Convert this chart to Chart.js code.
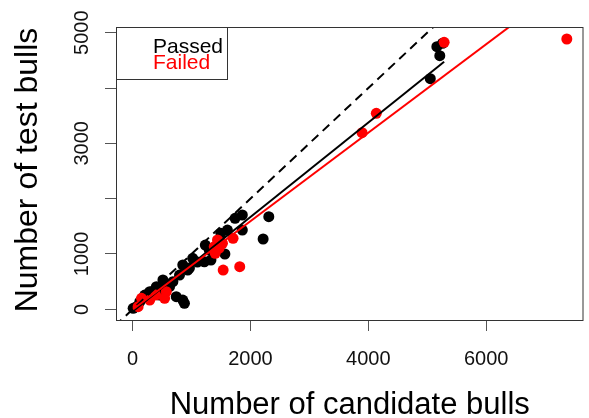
<!DOCTYPE html>
<html>
<head>
<meta charset="utf-8">
<script src="https://cdn.jsdelivr.net/npm/chart.js@4.4.1/dist/chart.umd.min.js"></script>
<style>
  html, body { margin: 0; padding: 0; background: #fff; }
  #wrap { width: 589px; height: 418px; }
</style>
</head>
<body>
<div id="wrap"><canvas id="chart" width="589" height="418"></canvas></div>
<script>
// ===== DATA =====
const passedX = [2311, 2215, 1862, 1739, 1862, 1609, 1498, 1234, 1566, 1330, 1217, 1020, 852, 936, 515, 684, 628, 404, 291, 741, 852, 880, 460, 123, 10, 67, 5162, 5258, 5212, 5051, 207, 375, 544, 796, 1099, 1301, 965];
const passedY = [1674, 1271, 1705, 1645, 1433, 1433, 1374, 1162, 1000, 891, 860, 922, 801, 710, 530, 499, 409, 409, 318, 228, 168, 108, 258, 137, 18, 47, 4747, 4808, 4584, 4168, 258, 349, 439, 620, 855, 1072, 746];

const failedX = [7367, 5286, 4135, 3894, 1441, 1386, 1525, 1705, 1402, 1537, 1818, 544, 572, 152, 94, 291, 392, 1470];
const failedY = [4886, 4826, 3543, 3192, 1253, 1132, 1193, 1283, 1012, 710, 770, 199, 318, 199, 47, 168, 258, 1108];

// fitted lines (end points)
const passedLineX = [0, 5286];
const passedLineY = [-39, 4476];
const failedLineX = [10, 7367];
const failedLineY = [0, 5886];
const identityLine = [-300, 5300];

const xTicks = [0, 2000, 4000, 6000];
const yTicks = [0, 1000, 2000, 3000, 4000, 5000];
const yTickLabels = ['0', '1000', '', '3000', '', '5000'];
const legendLabels = ['Passed', 'Failed'];
const xTitle = 'Number of candidate bulls';
const yTitle = 'Number of test bulls';

const toPoints = (xs, ys) => xs.map((x, i) => ({ x: x, y: ys[i] }));

// ===== R-STYLE FRAME, LABELS AND LEGEND =====
const FONT = '"Liberation Sans", Arial, sans-serif';

const rDecor = {
    id: 'rDecor',
    afterDraw(chart) {
        const ctx = chart.ctx;
        const a = chart.chartArea;
        const xs = chart.scales.x;
        const ys = chart.scales.y;
        ctx.save();

        // plot box
        ctx.strokeStyle = '#333';
        ctx.lineWidth = 1;
        ctx.strokeRect(a.left + 0.5, a.top + 0.5, a.right - a.left - 1, a.bottom - a.top);

        ctx.fillStyle = '#111';

        // x tick labels
        ctx.font = '20px ' + FONT;
        ctx.textAlign = 'center';
        ctx.textBaseline = 'alphabetic';
        xTicks.forEach(v => {
            ctx.fillText(String(v), xs.getPixelForValue(v), 365);
        });

        // y tick labels (rotated like R)
        yTicks.forEach((v, i) => {
            if (!yTickLabels[i]) return;
            ctx.save();
            ctx.translate(88, ys.getPixelForValue(v));
            ctx.rotate(-Math.PI / 2);
            ctx.fillText(yTickLabels[i], 0, 0);
            ctx.restore();
        });

        // axis titles
        ctx.fillStyle = '#000';
        ctx.font = '31px ' + FONT;
        ctx.fillText(xTitle, (a.left + a.right) / 2, 414);
        ctx.save();
        ctx.translate(37, 170);
        ctx.rotate(-Math.PI / 2);
        ctx.font = '32px ' + FONT;
        ctx.fillText(yTitle, 0, 0);
        ctx.restore();

        // legend
        ctx.strokeStyle = '#333';
        ctx.strokeRect(a.left + 0.5, a.top + 0.5, 111, 52);
        ctx.font = '21px ' + FONT;
        ctx.textAlign = 'left';
        ctx.fillStyle = '#000';
        ctx.fillText(legendLabels[0], 153, 53);
        ctx.fillStyle = '#ff0000';
        ctx.fillText(legendLabels[1], 153, 69);

        ctx.restore();
    }
};

// ===== CHART =====
new Chart(document.getElementById('chart'), {
    type: 'scatter',
    data: {
        datasets: [
            {
                label: 'Failed fit',
                data: toPoints(failedLineX, failedLineY),
                showLine: true,
                borderColor: '#ff0000',
                borderWidth: 2,
                pointRadius: 0
            },
            {
                label: 'Passed fit',
                data: toPoints(passedLineX, passedLineY),
                showLine: true,
                borderColor: '#000',
                borderWidth: 2,
                pointRadius: 0
            },
            {
                label: 'y = x',
                data: toPoints(identityLine, identityLine),
                showLine: true,
                borderColor: '#000',
                borderWidth: 2,
                borderDash: [9, 6],
                pointRadius: 0
            },
            {
                label: 'Failed',
                data: toPoints(failedX, failedY),
                backgroundColor: '#ff0000',
                borderWidth: 0,
                pointRadius: 5.5
            },
            {
                label: 'Passed',
                data: toPoints(passedX, passedY),
                backgroundColor: '#000',
                borderWidth: 0,
                pointRadius: 5.5
            }
        ]
    },
    options: {
        responsive: false,
        animation: false,
        devicePixelRatio: 1,
        layout: { padding: { top: 27, right: 2, left: 0, bottom: 0 } },
        plugins: {
            legend: { display: false },
            tooltip: { enabled: false }
        },
        scales: {
            x: {
                type: 'linear',
                min: -281,
                max: 7650,
                afterBuildTicks: s => { s.ticks = xTicks.map(v => ({ value: v })); },
                afterFit: s => { s.height = 98; },
                ticks: { display: false },
                grid: { drawOnChartArea: false, tickLength: 11, color: '#555', lineWidth: 1 },
                border: { display: false }
            },
            y: {
                type: 'linear',
                min: -193,
                max: 5103,
                afterBuildTicks: s => { s.ticks = yTicks.map(v => ({ value: v })); },
                afterFit: s => { s.width = 116; },
                ticks: { display: false },
                grid: { drawOnChartArea: false, tickLength: 11, color: '#555', lineWidth: 1 },
                border: { display: false }
            }
        }
    },
    plugins: [rDecor]
});
</script>
</body>
</html>
